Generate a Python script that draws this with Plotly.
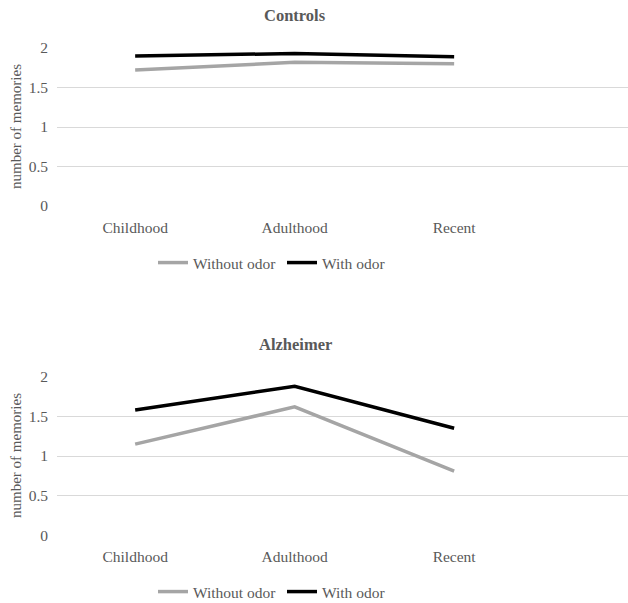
import plotly.graph_objects as go

categories = ["Childhood", "Adulthood", "Recent"]
controls_without = [1.72, 1.82, 1.80]
controls_with = [1.90, 1.93, 1.89]
alz_without = [1.15, 1.62, 0.81]
alz_with = [1.58, 1.88, 1.35]
y_ticks = [0, 0.5, 1, 1.5, 2]
y_ticktext = ["0", "0.5", "1", "1.5", "2"]

FONT = "Liberation Serif, Times New Roman, serif"
TXT = "#595959"
GRAY = "#A5A5A5"
BLACK = "#000000"
W, H = 628, 603

fig = go.Figure()

def add_pair(xaxis, yaxis, without, with_, legend):
    fig.add_trace(go.Scatter(x=categories, y=without, mode="lines", name="Without odor",
                             line=dict(color=GRAY, width=3.5), xaxis=xaxis, yaxis=yaxis,
                             legend=legend))
    fig.add_trace(go.Scatter(x=categories, y=with_, mode="lines", name="With odor",
                             line=dict(color=BLACK, width=3.5), xaxis=xaxis, yaxis=yaxis,
                             legend=legend))

add_pair("x", "y", controls_without, controls_with, "legend")
add_pair("x2", "y2", alz_without, alz_with, "legend2")

def py(px):
    return 1 - px / H

xcommon = dict(type="category", range=[-0.49, 3.09], domain=[57 / W, 1.0],
               showgrid=False, zeroline=False, showline=False, ticks="",
               tickfont=dict(family=FONT, size=15.5, color=TXT), ticklabelstandoff=10,
               automargin=False)
ycommon = dict(range=[0, 2.0], tickvals=y_ticks, ticktext=y_ticktext,
               showgrid=True, gridcolor="#D9D9D9", gridwidth=1, zeroline=False,
               showline=False, ticks="",
               tickfont=dict(family=FONT, size=15.5, color=TXT), ticklabelstandoff=8,
               automargin=False)

legcommon = dict(orientation="h", xanchor="left", yanchor="middle",
                 font=dict(family=FONT, size=15.5, color=TXT), bgcolor="rgba(0,0,0,0)",
                 itemwidth=30, tracegroupgap=0, entrywidth=84, entrywidthmode="pixels")

fig.update_layout(
    width=W, height=H,
    margin=dict(l=0, r=0, t=0, b=0, pad=0, autoexpand=False),
    paper_bgcolor="white", plot_bgcolor="white",
    xaxis=dict(anchor="y", **xcommon),
    yaxis=dict(anchor="x", domain=[py(206), py(48)], **ycommon),
    xaxis2=dict(anchor="y2", **xcommon),
    yaxis2=dict(anchor="x2", domain=[py(535.3), py(376.7)], **ycommon),
    legend=dict(x=153 / W, y=py(263), **legcommon),
    legend2=dict(x=153 / W, y=py(592), **legcommon),
    annotations=[
        dict(text="<b>Controls</b>", x=295 / W, y=py(16), xref="paper", yref="paper",
             showarrow=False, font=dict(family=FONT, size=16.5, color=TXT),
             xanchor="center", yanchor="middle"),
        dict(text="<b>Alzheimer</b>", x=295 / W, y=py(345), xref="paper", yref="paper",
             showarrow=False, font=dict(family=FONT, size=16.5, color=TXT),
             xanchor="center", yanchor="middle"),
        dict(text="number of memories", x=16 / W, y=py(127), xref="paper", yref="paper",
             showarrow=False, textangle=-90, font=dict(family=FONT, size=15, color=TXT),
             xanchor="center", yanchor="middle"),
        dict(text="number of memories", x=16 / W, y=py(456), xref="paper", yref="paper",
             showarrow=False, textangle=-90, font=dict(family=FONT, size=15, color=TXT),
             xanchor="center", yanchor="middle"),
    ],
)

fig.write_html("out.html",
               config={"displayModeBar": False},
               post_script="document.body.style.margin='0';document.body.style.overflow='hidden';")
